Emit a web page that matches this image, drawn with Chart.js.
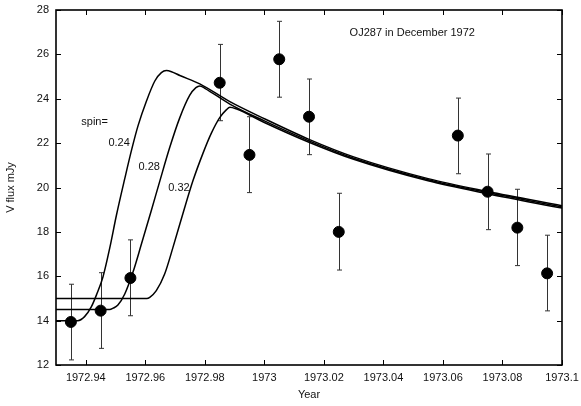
<!DOCTYPE html>
<html>
<head>
<meta charset="utf-8">
<script src="https://cdn.jsdelivr.net/npm/chart.js@4.4.1/dist/chart.umd.min.js"></script>
<style>
  html, body { margin: 0; padding: 0; background: #fff; }
  #wrap { width: 581px; height: 406px; }
</style>
</head>
<body>
<div id="wrap"><canvas id="lcChart"></canvas></div>
<script>
// observed V flux of OJ287
var obsYears = [1972.935, 1972.945, 1972.955, 1972.985, 1972.995, 1973.005, 1973.015, 1973.025, 1973.065, 1973.075, 1973.085, 1973.095];
var obsFlux  = [13.94, 14.45, 15.92, 24.72, 21.47, 25.78, 23.19, 18.0, 22.34, 19.81, 18.19, 16.13];
var errLow   = [12.23, 12.75, 14.22, 23.01, 19.77, 24.07, 21.48, 16.28, 20.62, 18.1, 16.48, 14.44];
var errHigh  = [15.64, 16.16, 17.64, 26.45, 23.19, 27.49, 24.89, 19.74, 24.03, 21.51, 19.92, 17.85];

// model curves, spin = 0.24 / 0.28 / 0.32
var yrs024  = [1972.93, 1972.9373, 1972.9396, 1972.9419, 1972.9436, 1972.9458, 1972.9481, 1972.9503, 1972.9531, 1972.9555, 1972.9576, 1972.9604, 1972.9632, 1972.9654, 1972.9671, 1972.9688, 1972.9716, 1972.9783, 1972.9884, 1973.0, 1973.015, 1973.03, 1973.055, 1973.075, 1973.1];
var flux024 = [14.0, 14.0, 14.18, 14.63, 15.16, 15.98, 17.3, 18.75, 20.4, 21.75, 22.8, 23.9, 24.8, 25.18, 25.27, 25.22, 25.05, 24.67, 23.87, 23.1, 22.17, 21.38, 20.4, 19.82, 19.18];

var yrs028  = [1972.93, 1972.948, 1972.9492, 1972.9508, 1972.9531, 1972.9559, 1972.9587, 1972.9621, 1972.9649, 1972.9682, 1972.9716, 1972.9749, 1972.977, 1972.9783, 1972.98, 1972.9884, 1973.0, 1973.015, 1973.03, 1973.055, 1973.075, 1973.1];
var flux028 = [14.5, 14.5, 14.56, 14.7, 15.2, 16.2, 17.45, 19.0, 20.3, 21.8, 23.15, 24.15, 24.5, 24.58, 24.47, 23.76, 23.0, 22.1, 21.32, 20.35, 19.77, 19.12];

var yrs032  = [1972.93, 1972.9605, 1972.9615, 1972.9637, 1972.9665, 1972.9693, 1972.9727, 1972.976, 1972.9794, 1972.9822, 1972.985, 1972.9872, 1972.9884, 1972.9905, 1973.0, 1973.015, 1973.03, 1973.055, 1973.075, 1973.1];
var flux032 = [15.0, 15.0, 15.05, 15.35, 16.1, 17.3, 18.85, 20.3, 21.55, 22.45, 23.15, 23.5, 23.62, 23.55, 22.93, 22.04, 21.27, 20.3, 19.72, 19.07];

var xTicks = [1972.94, 1972.96, 1972.98, 1973, 1973.02, 1973.04, 1973.06, 1973.08, 1973.1];
var yTicks = [12, 14, 16, 18, 20, 22, 24, 26, 28];

function pairs(xs, ys) {
    return xs.map(function (x, i) { return { x: x, y: ys[i] }; });
}

function curve(xs, ys) {
    return {
        type: 'line',
        data: pairs(xs, ys),
        borderColor: '#000',
        borderWidth: 1.5,
        pointRadius: 0,
        fill: false,
        cubicInterpolationMode: 'monotone'
    };
}

var FONT = 'Liberation Sans, Arial, sans-serif';

// error bars, box, inward ticks and text labels
var extras = {
    id: 'extras',
    beforeDatasetsDraw: function (chart) {
        var ctx = chart.ctx, xs = chart.scales.x, ys = chart.scales.y;
        ctx.save();
        ctx.strokeStyle = '#333';
        ctx.lineWidth = 1;
        obsYears.forEach(function (yr, i) {
            var px = Math.round(xs.getPixelForValue(yr)) + 0.5;
            var lo = ys.getPixelForValue(errLow[i]);
            var hi = ys.getPixelForValue(errHigh[i]);
            ctx.beginPath();
            ctx.moveTo(px, lo); ctx.lineTo(px, hi);
            ctx.moveTo(px - 2.5, lo); ctx.lineTo(px + 2.5, lo);
            ctx.moveTo(px - 2.5, hi); ctx.lineTo(px + 2.5, hi);
            ctx.stroke();
        });
        ctx.restore();
    },
    afterDraw: function (chart) {
        var ctx = chart.ctx, a = chart.chartArea, xs = chart.scales.x, ys = chart.scales.y;
        ctx.save();
        ctx.strokeStyle = '#000';
        ctx.lineWidth = 1;
        ctx.beginPath();
        xTicks.forEach(function (t) {
            var px = Math.round(xs.getPixelForValue(t)) + 0.5;
            ctx.moveTo(px, a.bottom); ctx.lineTo(px, a.bottom - 5);
            ctx.moveTo(px, a.top); ctx.lineTo(px, a.top + 5);
        });
        yTicks.forEach(function (t) {
            var py = Math.round(ys.getPixelForValue(t)) + 0.5;
            ctx.moveTo(a.left, py); ctx.lineTo(a.left + 5, py);
            ctx.moveTo(a.right, py); ctx.lineTo(a.right - 5, py);
        });
        ctx.stroke();
        ctx.lineWidth = 1.6;
        ctx.strokeRect(a.left, a.top, a.right - a.left, a.bottom - a.top);

        ctx.fillStyle = '#111';
        ctx.font = '11px ' + FONT;
        ctx.textBaseline = 'middle';
        ctx.textAlign = 'center';
        ctx.fillText('OJ287 in December 1972', xs.getPixelForValue(1973.0497), ys.getPixelForValue(26.95));
        ctx.textAlign = 'left';
        ctx.fillText('spin=', xs.getPixelForValue(1972.9385), ys.getPixelForValue(22.97));
        ctx.textAlign = 'right';
        ctx.fillText('0.24', xs.getPixelForValue(1972.9548), ys.getPixelForValue(21.99));
        ctx.fillText('0.28', xs.getPixelForValue(1972.9649), ys.getPixelForValue(20.94));
        ctx.fillText('0.32', xs.getPixelForValue(1972.9749), ys.getPixelForValue(20.0));
        ctx.restore();
    }
};

var lcChart = new Chart(document.getElementById('lcChart').getContext('2d'), {
    type: 'scatter',
    data: {
        datasets: [
            curve(yrs024, flux024),
            curve(yrs028, flux028),
            curve(yrs032, flux032),
            {
                type: 'scatter',
                data: pairs(obsYears, obsFlux),
                backgroundColor: '#000',
                borderColor: '#000',
                pointRadius: 5.5,
                pointHoverRadius: 5.5
            }
        ]
    },
    options: {
        responsive: true,
        maintainAspectRatio: false,
        animation: false,
        layout: { padding: { top: 10, right: 19, left: 0, bottom: 0 } },
        plugins: { legend: { display: false }, tooltip: { enabled: false } },
        scales: {
            x: {
                type: 'linear',
                min: 1972.93,
                max: 1973.1,
                grid: { display: false, drawTicks: false },
                border: { display: false },
                afterBuildTicks: function (s) { s.ticks = xTicks.map(function (v) { return { value: v }; }); },
                afterFit: function (s) { s.height = 41; s.paddingLeft = 0; s.paddingRight = 0; },
                ticks: {
                    padding: 6,
                    color: '#111',
                    font: { family: FONT, size: 11 },
                    maxRotation: 0,
                    autoSkip: false,
                    callback: function (v) { return String(parseFloat(v.toFixed(2))); }
                },
                title: {
                    display: true,
                    text: 'Year',
                    color: '#111',
                    font: { family: FONT, size: 11 },
                    padding: { top: 0, bottom: 4 }
                }
            },
            y: {
                min: 12,
                max: 28,
                grid: { display: false, drawTicks: false },
                border: { display: false },
                afterBuildTicks: function (s) { s.ticks = yTicks.map(function (v) { return { value: v }; }); },
                afterFit: function (s) { s.width = 56; s.paddingTop = 0; s.paddingBottom = 0; },
                ticks: {
                    padding: 7,
                    color: '#111',
                    font: { family: FONT, size: 11 }
                },
                title: {
                    display: true,
                    text: 'V flux mJy',
                    color: '#111',
                    font: { family: FONT, size: 11 },
                    padding: { top: 4, bottom: 0 }
                }
            }
        }
    },
    plugins: [extras]
});
</script>
</body>
</html>
